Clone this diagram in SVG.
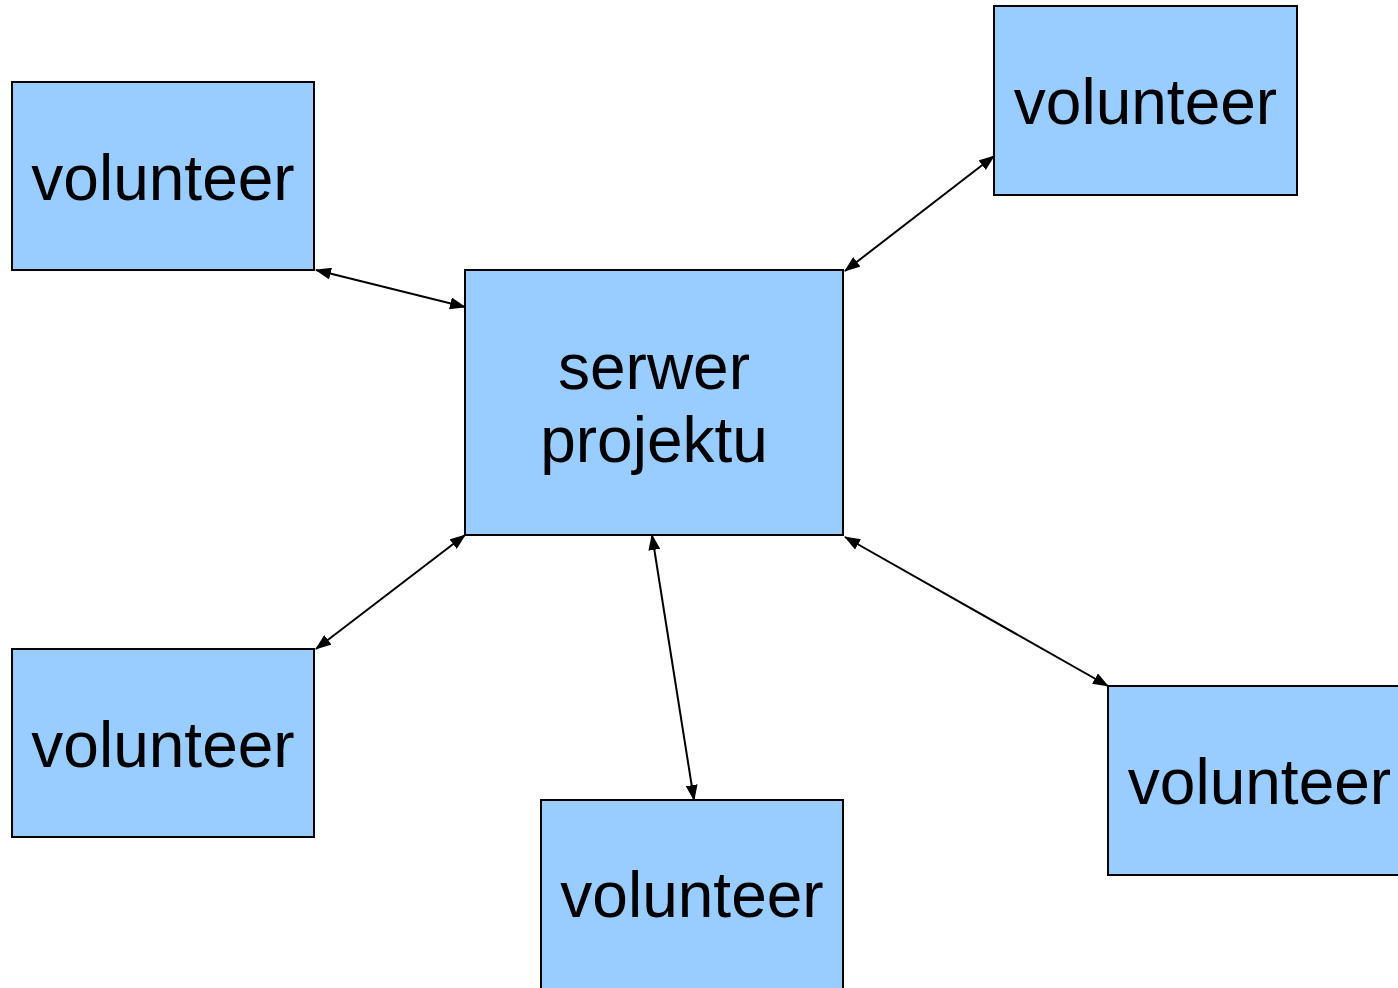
<svg xmlns="http://www.w3.org/2000/svg" width="1398" height="988" viewBox="0 0 1398 988">
<style>
.box{fill:#99CCFF;stroke:#000;stroke-width:2}
.lbl{font-family:"Liberation Sans",Arial,sans-serif;font-size:64px;fill:#000;text-anchor:middle}
.conn{stroke:#000;stroke-width:2;fill:none;marker-start:url(#ah);marker-end:url(#ah)}
</style>
<defs>
<marker id="ah" markerUnits="userSpaceOnUse" markerWidth="16" markerHeight="12" refX="15" refY="6" orient="auto-start-reverse" viewBox="0 0 16 12">
<path d="M0,0 L16,6 L0,12 z" fill="#000"/>
</marker>
</defs>
<rect width="1398" height="988" fill="#fff"/>
<g id="connectors">
<line class="conn" x1="316" y1="270" x2="465" y2="307"/>
<line class="conn" x1="845" y1="271" x2="994" y2="156"/>
<line class="conn" x1="316" y1="649" x2="465" y2="535"/>
<line class="conn" x1="652" y1="535" x2="694" y2="800"/>
<line class="conn" x1="845" y1="537" x2="1108" y2="686"/>
</g>
<g id="server">
<rect class="box" x="465" y="270" width="378" height="265"/>
<text class="lbl" x="654" y="389">serwer</text>
<text class="lbl" x="654" y="462">projektu</text>
</g>
<g id="vol-top-left">
<rect class="box" x="12" y="82" width="302" height="188"/>
<text class="lbl" x="163" y="200">volunteer</text>
</g>
<g id="vol-top-right">
<rect class="box" x="994" y="6" width="303" height="189"/>
<text class="lbl" x="1145.5" y="124">volunteer</text>
</g>
<g id="vol-bottom-left">
<rect class="box" x="12" y="649" width="302" height="188"/>
<text class="lbl" x="163" y="767">volunteer</text>
</g>
<g id="vol-bottom">
<rect class="box" x="541" y="800" width="302" height="189"/>
<text class="lbl" x="692" y="917">volunteer</text>
</g>
<g id="vol-bottom-right">
<rect class="box" x="1108" y="686" width="303" height="189"/>
<text class="lbl" x="1259.5" y="804">volunteer</text>
</g>
</svg>
